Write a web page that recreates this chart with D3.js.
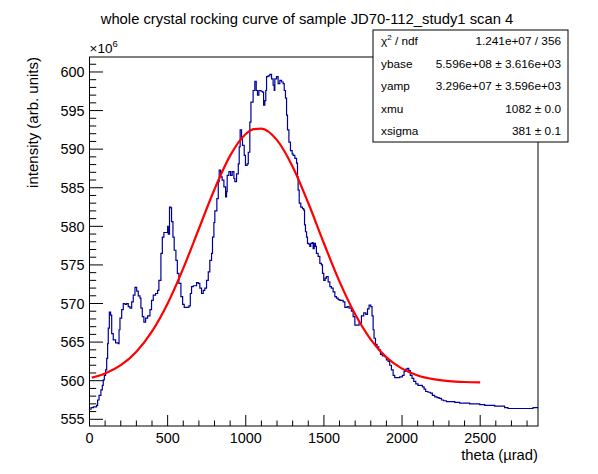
<!DOCTYPE html>
<html>
<head>
<meta charset="utf-8">
<script src="https://cdn.jsdelivr.net/npm/d3@7"></script>
<style>
  body { margin: 0; background: #fff; }
  svg { display: block; font-family: "Liberation Sans", Arial, sans-serif; }
</style>
</head>
<body>
<svg id="chart" width="598" height="474"></svg>
<script>
// histogram (theta in µrad, intensity in 1e6 arb. units)
const theta = [0, 10, 25, 45, 52, 61, 73, 82, 88, 95, 103, 110, 116, 120, 127, 135, 142, 152, 167, 184,
  189, 195, 206, 216, 227, 238, 248, 259, 270, 280, 291, 302, 312, 323, 329, 338, 348, 359, 372, 387,
  397, 408, 423, 436, 444, 457, 466, 476, 489, 500, 504, 512, 521, 525, 534, 542, 553, 562, 572, 585,
  596, 606, 621, 636, 645, 653, 664, 674, 685, 696, 706, 717, 728, 738, 749, 760, 770, 781, 787, 796,
  802, 815, 824, 830, 839, 849, 860, 871, 877, 881, 892, 903, 913, 924, 930, 941, 952, 958, 964, 973,
  979, 990, 998, 1009, 1016, 1026, 1033, 1047, 1058, 1067, 1075, 1084, 1097, 1107, 1114, 1122, 1128, 1133, 1143, 1154,
  1165, 1175, 1182, 1186, 1197, 1207, 1218, 1229, 1239, 1246, 1254, 1261, 1267, 1276, 1286, 1297, 1303, 1314, 1325, 1331,
  1335, 1342, 1352, 1363, 1371, 1376, 1382, 1389, 1395, 1403, 1410, 1416, 1425, 1431, 1438, 1446, 1452, 1463, 1474, 1484,
  1491, 1499, 1508, 1516, 1527, 1538, 1548, 1559, 1570, 1580, 1591, 1602, 1623, 1634, 1649, 1661, 1676, 1687, 1698, 1712,
  1725, 1740, 1755, 1768, 1779, 1789, 1800, 1808, 1815, 1821, 1830, 1840, 1851, 1862, 1874, 1889, 1900, 1911, 1921, 1932,
  1943, 1953, 1968, 1985, 2002, 2013, 2024, 2034, 2043, 2053, 2064, 2075, 2088, 2102, 2117, 2130, 2141, 2151, 2166, 2181,
  2194, 2209, 2224, 2237, 2252, 2266, 2284, 2305, 2337, 2369, 2401, 2433, 2465, 2497, 2529, 2561, 2593, 2625, 2656, 2678,
  2710, 2742, 2774, 2806, 2838, 2870];
const intensity = [556.3, 556.5, 556.6, 556.8, 557.5, 558.1, 558.8, 559.4, 560.1, 560.7, 561.4, 562.9, 564.8, 566.8, 568.9, 568.5, 566.1, 565.3, 564.9, 564.8,
  566.6, 568.1, 569.2, 570.0, 569.9, 570.0, 569.6, 569.4, 570.2, 571.1, 572.1, 571.6, 571.0, 570.7, 569.4, 568.3, 567.6, 568.1, 568.4, 569.2,
  570.4, 571.1, 571.3, 571.7, 573.0, 576.5, 578.6, 579.2, 579.2, 580.0, 579.0, 582.5, 582.4, 580.6, 578.6, 576.9, 575.6, 573.9, 572.6, 570.9,
  569.9, 569.5, 569.5, 569.7, 571.3, 572.2, 572.3, 572.3, 572.7, 572.6, 572.0, 571.3, 571.7, 572.0, 573.0, 574.1, 575.6, 576.5, 578.6, 580.5,
  582.0, 583.6, 585.8, 587.3, 586.4, 586.0, 585.1, 583.8, 584.5, 586.6, 587.1, 586.6, 587.1, 586.2, 585.8, 586.8, 588.1, 590.3, 592.5, 591.6,
  590.5, 589.2, 587.9, 588.1, 589.6, 593.5, 596.1, 597.6, 598.8, 597.6, 597.0, 597.6, 597.5, 597.4, 595.7, 596.3, 597.6, 599.4, 599.5, 599.7,
  599.1, 598.3, 597.6, 599.1, 599.4, 598.5, 598.9, 598.7, 598.5, 597.6, 596.6, 594.4, 592.5, 590.9, 589.8, 589.4, 589.2, 588.8, 588.2, 586.4,
  584.7, 583.0, 582.5, 582.3, 582.1, 580.2, 579.3, 578.6, 577.8, 577.7, 577.4, 577.8, 577.9, 577.1, 577.8, 577.4, 576.5, 576.1, 575.2, 575.0,
  573.9, 573.0, 573.3, 573.5, 572.8, 572.2, 572.0, 571.5, 570.9, 570.7, 570.5, 570.4, 570.2, 569.5, 569.6, 569.4, 569.0, 568.3, 567.2, 567.2,
  567.5, 568.4, 568.8, 568.6, 569.3, 569.8, 569.6, 568.4, 566.6, 565.5, 564.7, 564.4, 564.0, 563.4, 563.2, 563.1, 562.7, 562.5, 562.0, 561.4,
  560.7, 560.4, 560.4, 560.5, 560.7, 561.2, 561.5, 561.6, 561.3, 560.7, 560.3, 559.9, 559.6, 559.4, 559.4, 559.2, 558.9, 558.6, 558.5, 558.4,
  558.1, 557.9, 557.8, 557.7, 557.5, 557.4, 557.3, 557.3, 557.2, 557.1, 557.1, 557.0, 557.0, 556.9, 556.8, 556.8, 556.7, 556.7, 556.5, 556.4,
  556.4, 556.4, 556.4, 556.4, 556.5, 556.5];

// fitted curve
const fitTheta = [15, 100, 200, 300, 400, 500, 600, 700, 800, 900, 1000, 1050, 1100, 1200, 1300, 1400, 1500, 1600, 1700, 1800, 1900, 2000, 2100, 2200, 2300, 2400, 2500];
const fitValue = [560.40, 560.94, 562.01, 563.76, 566.39, 570.01, 574.56, 579.69, 584.81, 589.16, 591.96, 592.59, 592.67, 591.17, 587.73, 583.02, 577.81, 572.83, 568.60, 565.33, 563.04, 561.56, 560.68, 560.20, 559.95, 559.83, 559.78];

const xTicks = [0, 500, 1000, 1500, 2000, 2500];
const yTicks = [555, 560, 565, 570, 575, 580, 585, 590, 595, 600];

const statLabels = ["\u03c7\u00b2 / ndf", "ybase", "yamp", "xmu", "xsigma"];
const statValues = ["1.241e+07 / 356", "5.596e+08 \u00b1 3.616e+03", "3.296e+07 \u00b1 3.596e+03", "1082 \u00b1 0.0", "381 \u00b1 0.1"];

const svg = d3.select("#chart");
const margin = { top: 57, right: 60, bottom: 48, left: 89.5 };
const width = 598 - margin.left - margin.right;
const height = 474 - margin.top - margin.bottom;

const g = svg.append("g")
  .attr("transform", `translate(${margin.left},${margin.top})`);

const x = d3.scaleLinear().domain([0, 2870]).range([0, width]);
const y = d3.scaleLinear().domain([554.13, 601.94]).range([height, 0]);

// histogram steps
const hist = d3.line()
  .x((d, i) => x(theta[i]))
  .y(d => y(d))
  .curve(d3.curveStepAfter);

g.append("path")
  .datum(intensity)
  .attr("fill", "none")
  .attr("stroke", "#000099")
  .attr("stroke-width", 1.2)
  .attr("d", hist);

// fit
const fitLine = d3.line()
  .x((d, i) => x(fitTheta[i]))
  .y(d => y(d))
  .curve(d3.curveMonotoneX);

g.append("path")
  .datum(fitValue)
  .attr("fill", "none")
  .attr("stroke", "#ff0000")
  .attr("stroke-width", 2.2)
  .attr("d", fitLine);

// frame
g.append("rect")
  .attr("width", width)
  .attr("height", height)
  .attr("fill", "none")
  .attr("stroke", "#000")
  .attr("stroke-width", 1);

// x axis, ROOT-like ticks pointing inwards
const xAxis = g.append("g").attr("transform", `translate(0,${height})`);
xAxis.selectAll("line.minor")
  .data(d3.range(0, 2871, 100))
  .join("line")
  .attr("x1", d => x(d)).attr("x2", d => x(d))
  .attr("y1", 0).attr("y2", d => d % 500 === 0 ? -11 : -5.5)
  .attr("stroke", "#000");
xAxis.selectAll("text")
  .data(xTicks)
  .join("text")
  .attr("x", d => x(d))
  .attr("y", 17)
  .attr("text-anchor", "middle")
  .attr("font-size", 14.4)
  .text(d => d);

g.append("text")
  .attr("x", width)
  .attr("y", height + 34)
  .attr("text-anchor", "end")
  .attr("font-size", 14.8)
  .text("theta (\u00b5rad)");

// y axis
const yAxis = g.append("g");
yAxis.selectAll("line")
  .data(d3.range(555, 602, 1))
  .join("line")
  .attr("x1", 0)
  .attr("x2", d => d % 5 === 0 ? 13.5 : 6.7)
  .attr("y1", d => y(d)).attr("y2", d => y(d))
  .attr("stroke", "#000");
yAxis.selectAll("text")
  .data(yTicks)
  .join("text")
  .attr("x", -5)
  .attr("y", d => y(d))
  .attr("dy", "0.36em")
  .attr("text-anchor", "end")
  .attr("font-size", 14.4)
  .text(d => d);

const expo = g.append("text")
  .attr("x", 0)
  .attr("y", -4)
  .attr("font-size", 13.5);
expo.append("tspan").text("\u00d710");
expo.append("tspan").attr("dy", -6).attr("font-size", 9.5).text("6");

g.append("text")
  .attr("transform", "rotate(-90)")
  .attr("x", 0)
  .attr("y", -52)
  .attr("text-anchor", "end")
  .attr("font-size", 15)
  .text("intensity (arb. units)");

// title
svg.append("text")
  .attr("x", 307)
  .attr("y", 24)
  .attr("text-anchor", "middle")
  .attr("font-size", 14.8)
  .text("whole crystal rocking curve of sample JD70-112_study1 scan 4");

// stats box
const box = svg.append("g").attr("transform", "translate(373,30)");
box.append("rect")
  .attr("width", 195)
  .attr("height", 112)
  .attr("fill", "#fff")
  .attr("stroke", "#000");
const rowH = 112 / 5;
statLabels.forEach((lab, i) => {
  const ty = rowH * (i + 0.5);
  const t = box.append("text")
    .attr("x", 8)
    .attr("y", ty)
    .attr("dy", "0.35em")
    .attr("font-size", 11.8);
  if (i === 0) {
    t.append("tspan").text("\u03c7");
    t.append("tspan").attr("dy", -5).attr("font-size", 8).text("2");
    t.append("tspan").attr("dy", 5).text(" / ndf");
  } else {
    t.text(lab);
  }
  box.append("text")
    .attr("x", 188)
    .attr("y", ty)
    .attr("dy", "0.35em")
    .attr("text-anchor", "end")
    .attr("font-size", 11.8)
    .text(statValues[i]);
});
</script>
</body>
</html>
